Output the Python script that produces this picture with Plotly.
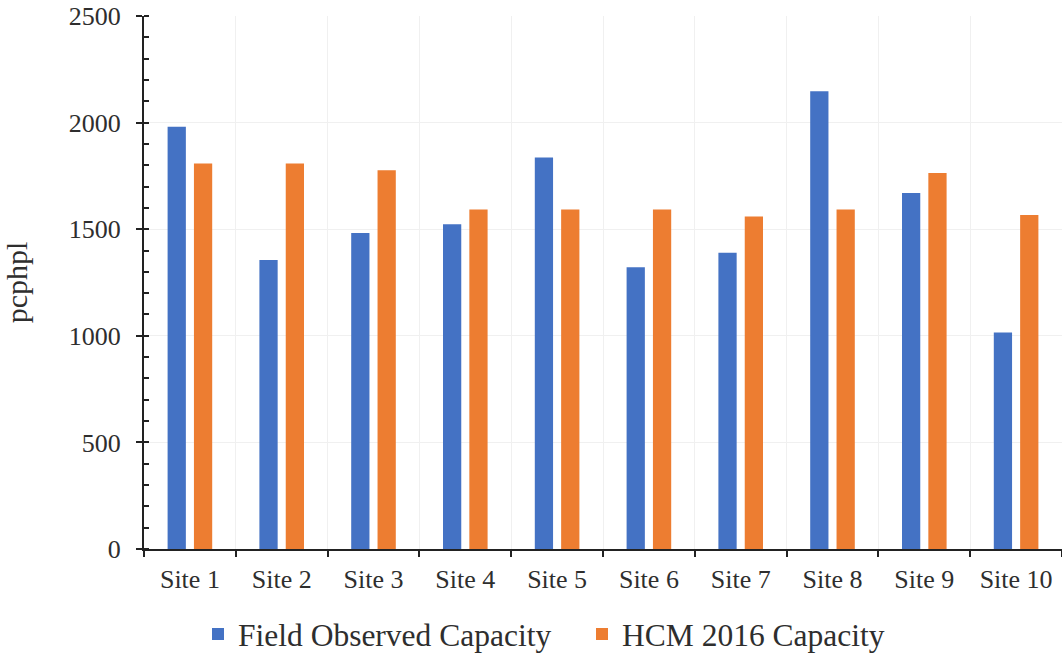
import plotly.graph_objects as go

sites = ["Site 1", "Site 2", "Site 3", "Site 4", "Site 5",
         "Site 6", "Site 7", "Site 8", "Site 9", "Site 10"]
field_observed = [1980, 1355, 1482, 1523, 1836, 1322, 1390, 2147, 1670, 1016]
hcm_2016 = [1808, 1808, 1776, 1592, 1592, 1592, 1560, 1592, 1764, 1567]

FONT = "Liberation Serif, Times New Roman, serif"
TXT = "#2e2e2e"

fig = go.Figure()
fig.add_trace(go.Bar(x=sites, y=field_observed, name="Field Observed Capacity",
                     marker_color="#4472C4", marker_line_width=0))
fig.add_trace(go.Bar(x=sites, y=hcm_2016, name="HCM 2016 Capacity",
                     marker_color="#ED7D31", marker_line_width=0))

fig.update_layout(
    width=1062, height=656,
    margin=dict(l=144, r=0, t=16, b=107, autoexpand=False),
    paper_bgcolor="white", plot_bgcolor="white",
    barmode="group", bargap=0.426, bargroupgap=0.307,
    font=dict(family=FONT, color=TXT, size=26),
    showlegend=True,
    legend=dict(orientation="h", x=54 / 918, xanchor="left",
                y=-58 / 533, yanchor="top", entrywidth=339, entrywidthmode="pixels",
                font=dict(family=FONT, size=31.5, color=TXT),
                itemclick=False, traceorder="normal"),
    xaxis=dict(
        type="category", tickson="boundaries", automargin=False,
        showline=True, linecolor="#222222", linewidth=2,
        ticks="outside", ticklen=6, tickwidth=2, tickcolor="#222222",
        showgrid=True, gridcolor="#f0f0f0", gridwidth=1,
        tickfont=dict(family=FONT, size=26, color=TXT),
        ticklabelstandoff=6,
    ),
    yaxis=dict(
        range=[0, 2500], dtick=500, automargin=False,
        showline=True, linecolor="#222222", linewidth=2,
        ticks="outside", ticklen=6, tickwidth=2, tickcolor="#222222",
        minor=dict(dtick=100, ticks="inside", ticklen=5, tickwidth=2, tickcolor="#222222", showgrid=False),
        showgrid=True, gridcolor="#f0f0f0", gridwidth=1,
        zeroline=False,
        tickfont=dict(family=FONT, size=26, color=TXT),
        ticklabelstandoff=10,
        title=dict(text="pcphpl", font=dict(family=FONT, size=30, color=TXT), standoff=32),
    ),
    yaxis2=dict(
        range=[0, 2500], dtick=500, overlaying="y", side="left", automargin=False,
        showline=False, showgrid=False, showticklabels=False, zeroline=False,
        ticks="inside", ticklen=6, tickwidth=2, tickcolor="#222222",
    ),
)

fig.write_html("out.html", config={"displayModeBar": False},
               post_script="document.body.style.margin='0';")
